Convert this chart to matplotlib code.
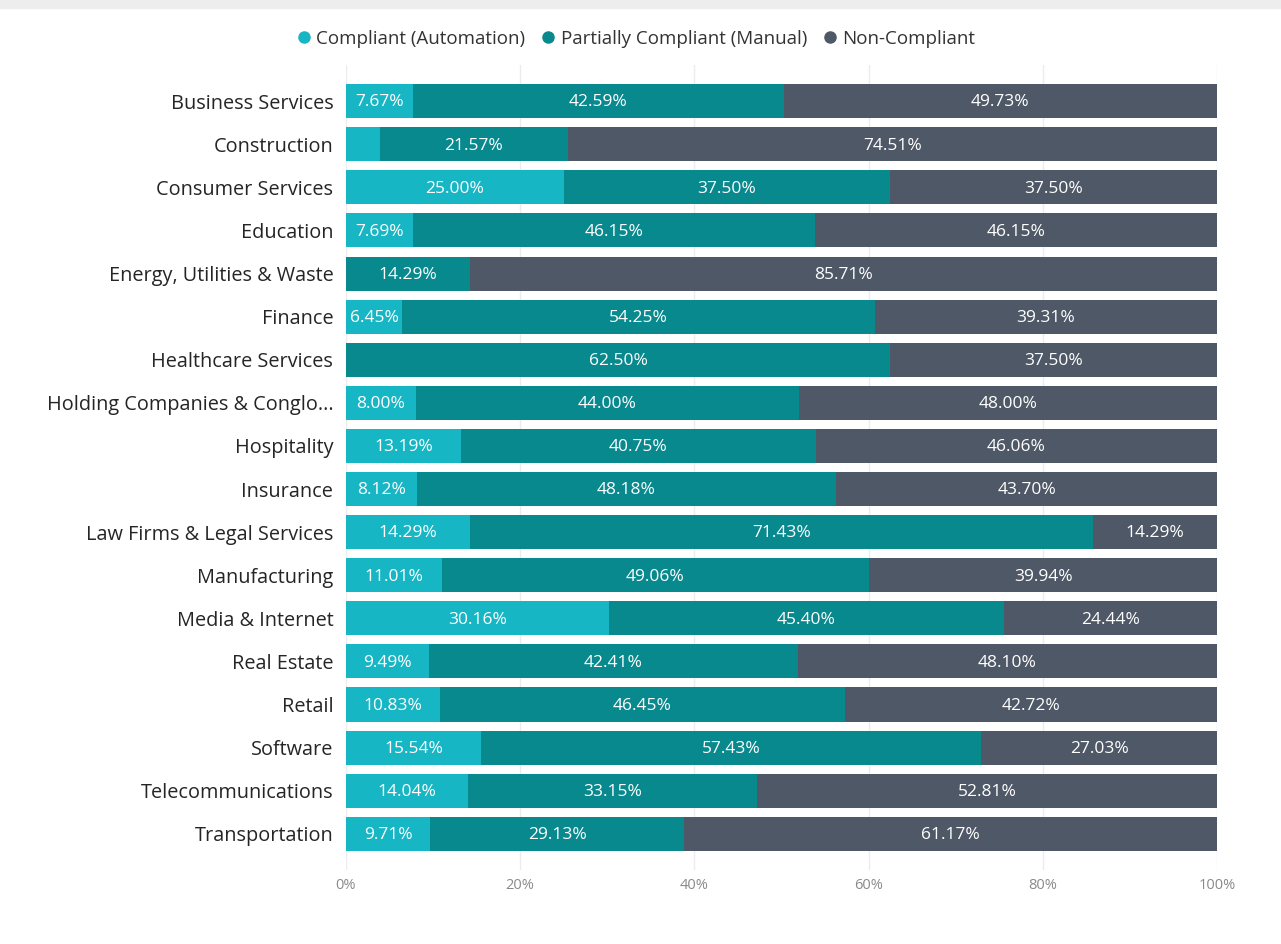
import numpy as np
import matplotlib
matplotlib.use("Agg")
import matplotlib.pyplot as plt
from matplotlib.lines import Line2D

plt.rcParams['font.family'] = ['Open Sans', 'DejaVu Sans']

# Compliance share per industry (%)
industries = [
    "Business Services", "Construction", "Consumer Services", "Education",
    "Energy, Utilities & Waste", "Finance", "Healthcare Services",
    "Holding Companies & Conglo...", "Hospitality", "Insurance",
    "Law Firms & Legal Services", "Manufacturing", "Media & Internet",
    "Real Estate", "Retail", "Software", "Telecommunications", "Transportation",
]
automation = [7.67, 3.92, 25.00, 7.69, 0.00, 6.45, 0.00, 8.00, 13.19, 8.12,
              14.29, 11.01, 30.16, 9.49, 10.83, 15.54, 14.04, 9.71]
manual = [42.59, 21.57, 37.50, 46.15, 14.29, 54.25, 62.50, 44.00, 40.75, 48.18,
          71.43, 49.06, 45.40, 42.41, 46.45, 57.43, 33.15, 29.13]
non_compliant = [49.73, 74.51, 37.50, 46.15, 85.71, 39.31, 37.50, 48.00, 46.06, 43.70,
                 14.29, 39.94, 24.44, 48.10, 42.72, 27.03, 52.81, 61.17]

series = [
    ("Compliant (Automation)", automation, "#17b6c4"),
    ("Partially Compliant (Manual)", manual, "#08898e"),
    ("Non-Compliant", non_compliant, "#4f5866"),
]

fig = plt.figure(figsize=(12.81, 9.44), dpi=100)

# light strip along the top edge
fig.patches.append(plt.Rectangle((0, 0.991), 1, 0.009, transform=fig.transFigure,
                                 color="#ededed", zorder=0))

ax = fig.add_axes([0.270, 0.0784, 0.680, 0.8528])
y = np.arange(len(industries))
left = np.zeros(len(industries))
for name, vals, color in series:
    vals = np.array(vals)
    ax.barh(y, vals, left=left, height=0.79, color=color, zorder=2)
    for yi, l, v in zip(y, left, vals):
        if v >= 5:
            ax.text(l + v / 2, yi + 0.03, f"{v:.2f}%", ha="center", va="center",
                    color="white", fontsize=12.5, zorder=3)
    left += vals

ax.set_xlim(0, 100)
ax.set_ylim(17.5 + 0.34, -0.5 - 0.34)
ax.set_yticks(y)
ax.set_yticklabels(industries, fontsize=14.3, color="#252525")
ax.set_xticks(np.arange(0, 101, 20))
ax.set_xticklabels([f"{t}%" for t in range(0, 101, 20)], fontsize=10.5, color="#8a8a8a")
ax.tick_params(axis="both", length=0)
ax.tick_params(axis="y", pad=9)
ax.tick_params(axis="x", pad=6)
ax.grid(axis="x", color="#ececec", linewidth=1, zorder=0)
for s in ax.spines.values():
    s.set_visible(False)

handles = [Line2D([0], [0], marker="o", linestyle="", markersize=8,
                  markerfacecolor=c, markeredgecolor=c) for _, _, c in series]
fig.legend(handles, [n for n, _, _ in series], loc="center", bbox_to_anchor=(0.492, 0.959),
           ncol=3, frameon=False, fontsize=13.5, handletextpad=-0.35, columnspacing=0.25,
           labelcolor="#333333")

fig.savefig("out.png", dpi=100)
